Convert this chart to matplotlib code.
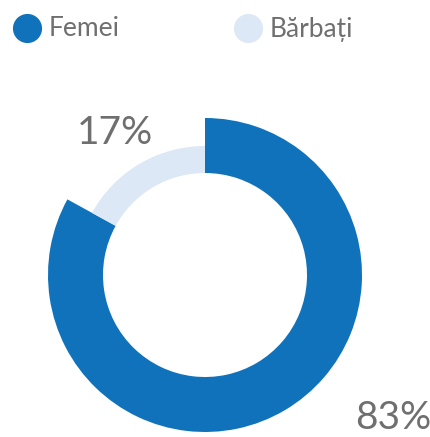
import matplotlib
matplotlib.use("Agg")
import matplotlib.pyplot as plt

categories = ["Femei", "Bărbați"]
values = [83, 17]
colors = ["#0f72bb", "#dce8f5"]
text_color = "#6f6f6f"

W, H = 431, 437
fig = plt.figure(figsize=(W / 100, H / 100), dpi=100)
ax = fig.add_axes([0, 0, 1, 1])

cx, cy = 205, H - 275
# outer ring for Femei
ax.pie(values, radius=157, center=(cx, cy), startangle=90, counterclock=False,
       colors=[colors[0], "none"], wedgeprops=dict(width=55, linewidth=0), frame=True)
# thinner ring for Bărbați
ax.pie(values, radius=129, center=(cx, cy), startangle=90, counterclock=False,
       colors=["none", colors[1]], wedgeprops=dict(width=27, linewidth=0), frame=True)
ax.set_xlim(0, W)
ax.set_ylim(0, H)
ax.set_aspect("auto")
ax.axis("off")

font = "Lato"
ax.text(115, H - 133, f"{values[1]}%", ha="center", va="center", fontsize=28,
        color=text_color, family=font)
ax.text(393, H - 418, f"{values[0]}%", ha="center", va="center", fontsize=28,
        color=text_color, family=font)

# legend
leg_x = [27, 248]
for x, lab, col in zip(leg_x, categories, colors):
    ax.scatter([x], [H - 28], s=440, color=col, linewidths=0)
    ax.text(x + 22, H - 29, lab, ha="left", va="center", fontsize=19,
            color=text_color, family=font)

fig.savefig("out.png", dpi=100)
